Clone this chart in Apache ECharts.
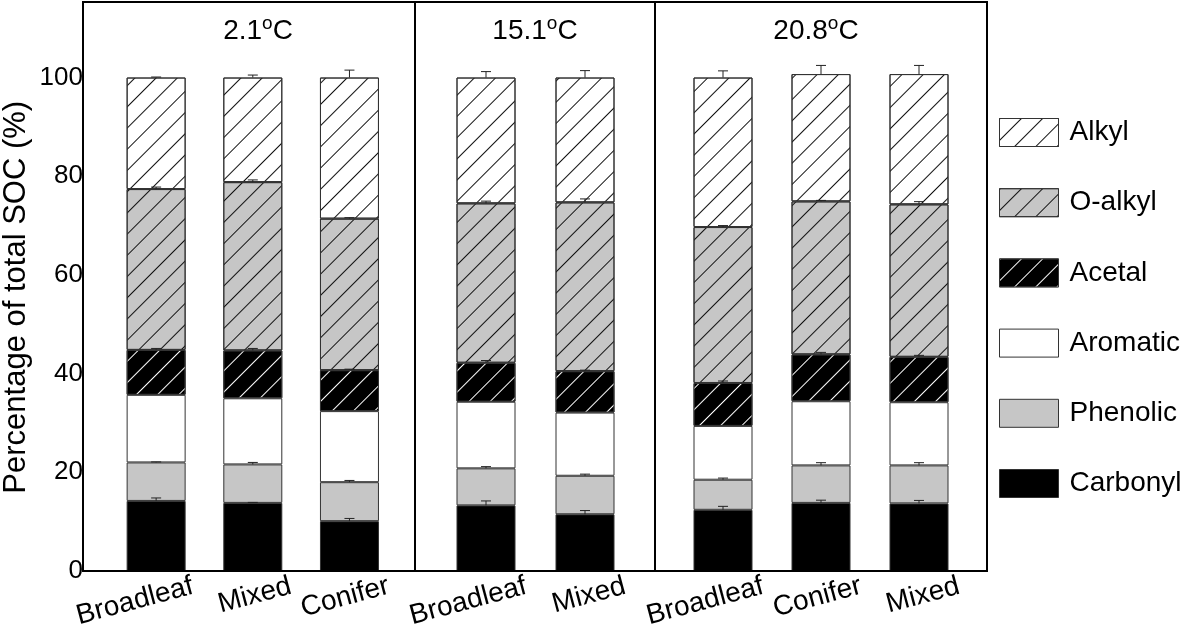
<!DOCTYPE html>
<html><head><meta charset="utf-8">
<script src="https://cdn.jsdelivr.net/npm/echarts@6/dist/echarts.min.js"></script>
<style>html,body{margin:0;padding:0;background:#fff}#c{width:1181px;height:631px}</style>
</head><body><div id="c"></div>
<script>
// ---- data ----
const panelTitles = ['2.1', '15.1', '20.8'];
const categories = [['Broadleaf', 'Mixed', 'Conifer'], ['Broadleaf', 'Mixed'], ['Broadleaf', 'Conifer', 'Mixed']];
const seriesNames = ['Carbonyl', 'Phenolic', 'Aromatic', 'Acetal', 'O-alkyl', 'Alkyl'];
const legendOrder = ['Alkyl', 'O-alkyl', 'Acetal', 'Aromatic', 'Phenolic', 'Carbonyl'];
const carbonyl = [[14.2, 13.8, 10.1], [13.3, 11.5], [12.4, 13.8, 13.7]];
const phenolic = [[7.8, 7.8, 7.9], [7.5, 7.8], [6.1, 7.6, 7.7]];
const aromatic = [[13.7, 13.4, 14.4], [13.5, 12.8], [10.9, 13.0, 12.8]];
const acetal = [[9.1, 9.7, 8.3], [7.9, 8.4], [8.7, 9.5, 9.2]];
const oAlkyl = [[32.6, 34.1, 30.7], [32.3, 34.2], [31.6, 31.0, 30.9]];
const alkyl = [[22.6, 21.2, 28.6], [25.5, 25.3], [30.3, 25.8, 26.4]];
const carbonylErr = [[0.6, 0.1, 0.55], [0.9, 0.75], [0.7, 0.55, 0.6]];
const phenolicErr = [[0.1, 0.4, 0.35], [0.35, 0.33], [0.33, 0.55, 0.55]];
const aromaticErr = [[0, 0, 0], [0, 0], [0, 0, 0]];
const acetalErr = [[0.3, 0.4, 0.2], [0.45, 0.2], [0.4, 0.4, 0.3]];
const oAlkylErr = [[0.4, 0.45, 0.2], [0.45, 0.7], [0.3, 0.2, 0.55]];
const alkylErr = [[0.1, 0.5, 1.5], [1.2, 1.4], [1.35, 1.75, 1.75]];
const yTicks = [0, 20, 40, 60, 80, 100];

const values = [carbonyl, phenolic, aromatic, acetal, oAlkyl, alkyl];
const errors = [carbonylErr, phenolicErr, aromaticErr, acetalErr, oAlkylErr, alkylErr];

// ---- styles / layout ----
const FONT = '"Liberation Sans", Arial, Helvetica, sans-serif';
const GRAY = '#c6c6c6';
function hatch(lineColor) {
  return { symbol: 'rect', symbolSize: 1, color: lineColor, dashArrayX: [1, 0], dashArrayY: [1, 14], rotation: -Math.PI / 4 };
}
const fills = {
  'Carbonyl': { color: '#000', decal: null },
  'Phenolic': { color: GRAY, decal: null },
  'Aromatic': { color: '#fff', decal: null },
  'Acetal': { color: '#000', decal: hatch('#ffffff') },
  'O-alkyl': { color: GRAY, decal: hatch('#111111') },
  'Alkyl': { color: '#fff', decal: hatch('#111111') }
};
const frame = { left: 83, right: 987, top: 2, bottom: 571 };
const dividers = [415, 655];
const barGrids = [{ left: 103.8, width: 294 }, { left: 436.5, width: 198 }, { left: 674, width: 294 }];
const titleX = [258, 535, 816];
const plotTop = 3.5, plotH = 567.5, yMax = 115;
const labelShift = 40;

const grid = [], xAxis = [], yAxis = [], series = [];
barGrids.forEach((g, p) => {
  grid.push({ left: g.left, width: g.width, top: plotTop, height: plotH });
});
barGrids.forEach((g, p) => {
  grid.push({ left: g.left + labelShift, width: g.width, top: plotTop, height: plotH });
});
barGrids.forEach((g, p) => {
  xAxis.push({ type: 'category', gridIndex: p, data: categories[p], show: false });
  yAxis.push({
    type: 'value', gridIndex: p, min: 0, max: yMax, interval: 20, show: p === 0,
    offset: p === 0 ? g.left - frame.left : 0,
    axisLine: { show: false }, axisTick: { show: false }, splitLine: { show: false },
    axisLabel: { color: '#000', fontSize: 26, fontFamily: FONT, margin: 4, showMaxLabel: false,
      formatter: v => (yTicks.indexOf(v) >= 0 ? String(v) : '') },
    name: p === 0 ? 'Percentage of total SOC (%)' : '', nameLocation: 'middle', nameGap: 55,
    nameTextStyle: { color: '#000', fontSize: 31, fontFamily: FONT, padding: [0, 20, 0, 0] }
  });
});
barGrids.forEach((g, p) => {
  xAxis.push({ type: 'category', gridIndex: 3 + p, data: categories[p],
    axisLine: { show: false }, axisTick: { show: false },
    axisLabel: { rotate: 15, margin: 20, color: '#000', fontSize: 28, fontFamily: FONT, interval: 0 } });
  yAxis.push({ type: 'value', gridIndex: 3 + p, min: 0, max: yMax, show: false });
});

for (let p = 0; p < 3; p++) {
  seriesNames.forEach((name, s) => {
    const itemStyle = { color: fills[name].color, borderColor: '#333', borderWidth: 1 };
    if (fills[name].decal) itemStyle.decal = fills[name].decal;
    series.push({
      type: 'bar', name: name, xAxisIndex: p, yAxisIndex: p, stack: 'p' + p, barWidth: 59,
      data: values[s][p], itemStyle: itemStyle,
      emphasis: { disabled: true }, animation: false
    });
  });
  const errData = [];
  categories[p].forEach((c, i) => {
    let cum = 0;
    seriesNames.forEach((name, s) => {
      cum += values[s][p][i];
      if (errors[s][p][i] > 0) errData.push([i, cum, errors[s][p][i]]);
    });
  });
  series.push({
    type: 'custom', name: 'err' + p, xAxisIndex: p, yAxisIndex: p, z: 10, animation: false,
    encode: { x: 0, y: 1 }, data: errData,
    renderItem: function (params, api) {
      const x = api.value(0), top = api.value(1), e = api.value(2);
      const p0 = api.coord([x, top]);
      const p1 = api.coord([x, top + e]);
      const st = { stroke: '#222', lineWidth: 1 };
      return { type: 'group', children: [
        { type: 'line', shape: { x1: p0[0], y1: p0[1], x2: p1[0], y2: p1[1] }, style: st },
        { type: 'line', shape: { x1: p1[0] - 5, y1: p1[1], x2: p1[0] + 5, y2: p1[1] }, style: st }
      ] };
    }
  });
}

const graphic = [
  { type: 'rect', z: 100, shape: { x: frame.left, y: frame.top, width: frame.right - frame.left, height: frame.bottom - frame.top },
    style: { fill: 'none', stroke: '#000', lineWidth: 2 } }
];
dividers.forEach(x => graphic.push({ type: 'line', z: 100, shape: { x1: x, y1: frame.top, x2: x, y2: frame.bottom }, style: { stroke: '#000', lineWidth: 2 } }));
panelTitles.forEach((t, p) => graphic.push({
  type: 'text', z: 100, x: titleX[p], y: 31,
  style: { text: '{n|' + t + '}{s|o}{n|C}', align: 'center', verticalAlign: 'middle', textAlign: 'center', textVerticalAlign: 'middle',
    rich: { n: { fontSize: 28, fontFamily: FONT, fill: '#000', color: '#000' },
            s: { fontSize: 19, fontFamily: FONT, fill: '#000', color: '#000', padding: [0, 0, 15, 0] } } }
}));

const chart = echarts.init(document.getElementById('c'), null, { renderer: 'canvas' });
chart.setOption({
  animation: false,
  backgroundColor: '#fff',
  grid, xAxis, yAxis, series, graphic,
  legend: {
    data: legendOrder, orient: 'vertical', left: 999, top: 118, padding: 0, itemWidth: 59, itemHeight: 28, itemGap: 41.2,
    icon: 'rect', selectedMode: false,
    itemStyle: { borderWidth: 1, borderColor: '#333' },
    textStyle: { color: '#000', fontSize: 28, fontFamily: FONT, padding: [0, 0, 0, 6] }
  }
});
</script></body></html>
